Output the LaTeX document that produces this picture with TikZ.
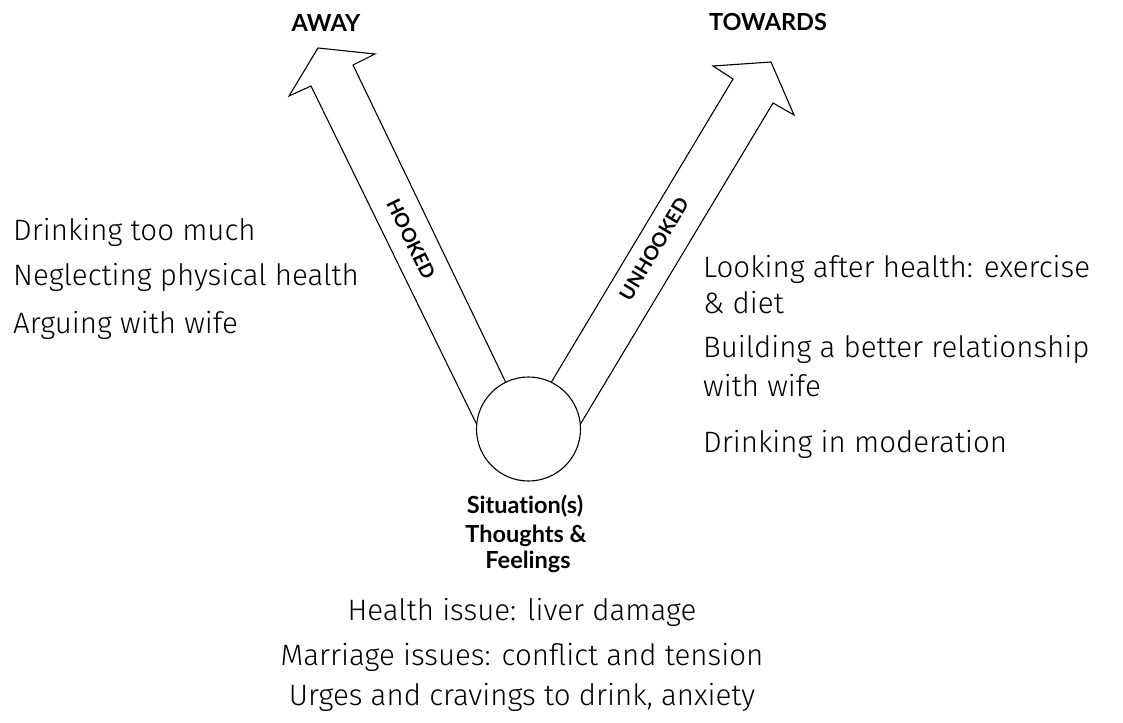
\documentclass[tikz,border=0pt]{standalone}
\usepackage{fontspec}
\setmainfont{Lato}[Ligatures=NoCommon]
\newfontfamily\handfont{Fira Sans Light}

\begin{document}
\begin{tikzpicture}[x=10pt,y=10pt]
        \tikzstyle{every node}+=[inner sep=0pt]
        \tikzstyle{head}=[font=\bfseries\fontsize{23.5}{27}\selectfont]
        \tikzstyle{tag}=[font=\bfseries\fontsize{19.5}{22}\selectfont]
        \tikzstyle{hand}=[font=\handfont\fontsize{29.5}{34}\selectfont]
        \useasboundingbox (0,0) rectangle (112.3,-72.2);
        % circle and the two block arrows
        \node [draw, circle, line width=1.1pt, minimum size=104pt] (sit) at (52.85,-42.9) {};
        \draw [line width=1.1pt] (sit.174) -- (31.1,-8.6) -- (28.9,-9.6) -- (31.8,-4.8) -- (37.5,-5.4) -- (35.3,-6.5) -- (sit.116);
        \draw [line width=1.1pt] (sit.64) -- (73.3,-7.9) -- (71.3,-6.6) -- (77.1,-6.2) -- (79.4,-11.5) -- (77.3,-10.3) -- (sit.6);
        \node [head, anchor=base] (away) at (32.6,-3.2) {AWAY};
        \node [head, anchor=base] (towards) at (76.8,-3.1) {TOWARDS};
        \node [tag, rotate=-64] (hooked) at (41.1,-23.9) {HOOKED};
        \node [tag, rotate=59] (unhooked) at (65.4,-24.9) {UNHOOKED};
        % centre labels
        \node [head, anchor=base] (sit1) at (52.5,-51.3) {Situation(s)};
        \node [head, anchor=base] (sit2) at (52.6,-54.2) {Thoughts \&};
        \node [head, anchor=base] (sit3) at (52.8,-56.8) {Feelings};
        % away moves
        \node [hand, anchor=base west] (aw1) at (1.3,-24.0) {Drinking too much};
        \node [hand, anchor=base west] (aw2) at (1.3,-28.5) {Neglecting physical health};
        \node [hand, anchor=base west] (aw3) at (1.3,-33.3) {Arguing with wife};
        % towards moves
        \node [hand, anchor=base west] (tw1) at (70.3,-27.7) {Looking after health: exercise};
        \node [hand, anchor=base west] (tw1b) at (70.3,-31.3) {\& diet};
        \node [hand, anchor=base west] (tw2) at (70.3,-35.7) {Building a better relationship};
        \node [hand, anchor=base west] (tw2b) at (70.3,-39.6) {with wife};
        \node [hand, anchor=base west] (tw3) at (70.3,-45.2) {Drinking in moderation};
        % inner experiences
        \node [hand, anchor=base] (in1) at (52.2,-62.0) {Health issue: liver damage};
        \node [hand, anchor=base] (in2) at (52.2,-66.5) {Marriage issues: conflict and tension};
        \node [hand, anchor=base] (in3) at (52.2,-70.5) {Urges and cravings to drink, anxiety};
\end{tikzpicture}
\end{document}
